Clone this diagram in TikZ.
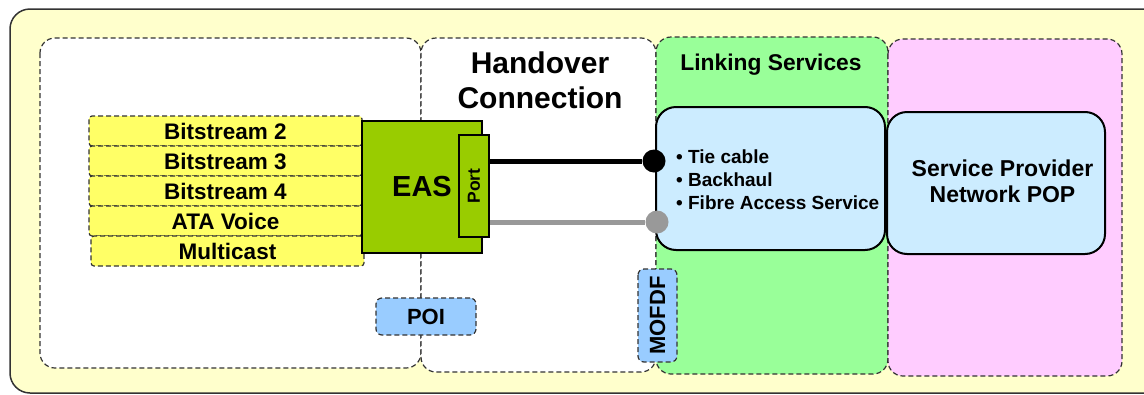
\documentclass[tikz,border=0pt]{standalone}
\usepackage{fontspec}
\setmainfont{Liberation Sans}
\usetikzlibrary{positioning}

\definecolor{frameyellow}{HTML}{FFFFCC}
\definecolor{linkgreen}{HTML}{99FF99}
\definecolor{sppink}{HTML}{FFCCFF}
\definecolor{rowyellow}{HTML}{FFFF66}
\definecolor{easgreen}{HTML}{99CC00}
\definecolor{paleblue}{HTML}{CCECFF}
\definecolor{tagblue}{HTML}{99CCFF}
\definecolor{cablegray}{HTML}{999999}

\tikzset{
  zone/.style={draw=black!80, line width=1.2pt, dash pattern=on 5pt off 3pt, rounded corners=15pt},
  row/.style={draw=black!80, line width=1.2pt, dash pattern=on 5pt off 3pt, rounded corners=3pt,
    fill=rowyellow, minimum width=273pt, minimum height=30pt, inner sep=0pt, outer sep=0pt,
    font=\bfseries\fontsize{22.5}{26}\selectfont},
  tag/.style={draw=black!80, line width=1.2pt, dash pattern=on 5pt off 3pt, rounded corners=6pt,
    fill=tagblue, inner sep=0pt, font=\bfseries\fontsize{22}{26}\selectfont},
  service/.style={draw=black, line width=2pt, rounded corners=20pt, fill=paleblue, inner sep=0pt},
  cable/.style={line width=5pt},
  jack/.style={circle, minimum size=23pt, inner sep=0pt}
}

\begin{document}
\begin{tikzpicture}[x=1pt, y=-1pt]
    \useasboundingbox (0,0) rectangle (1144,394);
    \clip (0,0) rectangle (1144,394);
    % outer frame
    \draw[draw=black!80, line width=1.5pt, fill=frameyellow, rounded corners=20pt] (10,9) rectangle (1190,393);

    % zones
    \draw[zone, fill=white] (40,38) rectangle (421,368);
    \draw[zone, fill=white] (421,38) rectangle (656,372);
    \draw[zone, fill=linkgreen] (656,37) rectangle (888,374);
    \draw[zone, fill=sppink] (888,39) rectangle (1122,376);

    \node[font=\bfseries\fontsize{30}{35}\selectfont, align=center] (handover) at (540,80) {Handover\\Connection};
    \node[font=\bfseries\fontsize{22.8}{26}\selectfont] (linkhead) at (771,65) {Linking Services};

    % traffic rows
    \node[row] (bs2) at (225.5,131) {Bitstream 2};
    \node[row, below=0pt of bs2] (bs3) {Bitstream 3};
    \node[row, below=0pt of bs3] (bs4) {Bitstream 4};
    \node[row, below=0pt of bs4] (ata) {ATA Voice};
    \node[row, below=0pt of ata, xshift=2pt] (mcast) {Multicast};

    % EAS and port
    \node[draw=black, line width=2.5pt, fill=easgreen, minimum width=120pt, minimum height=132pt,
      font=\bfseries\fontsize{29}{34}\selectfont] (eas) at (422,187) {EAS};
    \node[draw=black, line width=2pt, fill=easgreen, rotate=90, minimum width=102pt, minimum height=30pt,
      inner sep=0pt, font=\bfseries\fontsize{17.5}{20}\selectfont] (port) at (474,186) {Port};

    % linking services
    \node[service, minimum width=229pt, minimum height=143pt] (linkbox) at (770.5,178.5) {};
    \node[anchor=west, align=left, inner sep=0pt, font=\bfseries\fontsize{19}{23}\selectfont] (linktxt) at (676,180)
      {\textbullet\ Tie cable\\\textbullet\ Backhaul\\\textbullet\ Fibre Access Service};

    % cables
    \node[jack, fill=black] (jblack) at (654,161) {};
    \node[jack, fill=cablegray] (jgray) at (657,222) {};
    \draw[cable] (port.south |- jblack) -- (jblack);
    \draw[cable, cablegray] (port.south |- jgray) -- (jgray);

    % service provider
    \node[service, minimum width=218pt, minimum height=142pt] (spbox) at (996,183) {};
    \node[align=center, font=\bfseries\fontsize{23}{26}\selectfont] (sppop) at (1002.5,181) {Service Provider\\Network POP};

    % interconnect points
    \node[tag, minimum width=100pt, minimum height=37pt] (poi) at (426,316.5) {POI};
    \node[tag, rotate=90, minimum width=93pt, minimum height=39pt] (mofdf) at (657.5,315.5) {MOFDF};
\end{tikzpicture}
\end{document}
